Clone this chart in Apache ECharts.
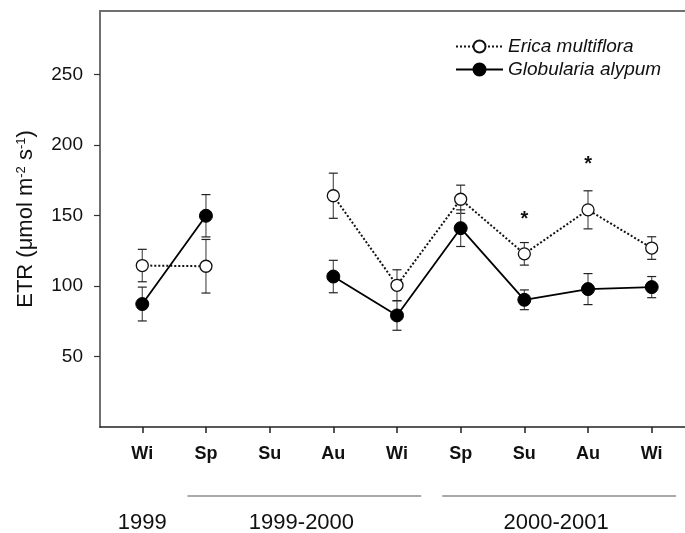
<!DOCTYPE html>
<html><head><meta charset="utf-8">
<script src="https://cdn.jsdelivr.net/npm/echarts@6/dist/echarts.min.js"></script>
<style>html,body{margin:0;padding:0;background:#fff}#c{width:685px;height:533px}</style>
</head><body><div id="c"></div>
<script>
// ---- data ----
const categories = ['Wi','Sp','Su','Au','Wi','Sp','Su','Au','Wi'];
const ericaValues = [114.5, 114, null, 164, 100.5, 161.5, 122.8, 154, 126.9];
const ericaErrors = [11.5, 19, null, 16, 11, 10, 8, 13.5, 8];
const globulariaValues = [87.2, 149.8, null, 106.7, 79.1, 141, 90.2, 97.8, 99.2];
const globulariaErrors = [12, 15, null, 11.5, 10.5, 13, 7, 11, 7.5];
const yTickValues = [50, 100, 150, 200, 250];
const asteriskPositions = [7, 8];      // category position (1-based)
const asteriskValues = [147, 186];
const yearLabels = ['1999', '1999-2000', '2000-2001'];
const yearFrom = [1, 2, 6];
const yearTo = [1, 5, 9];
const yearHasLine = [false, true, true];

const FONT = 'Liberation Sans, Arial, Helvetica, sans-serif';
const xPositions = categories.map((c, i) => i + 1);
const X_MIN = 0.336, X_MAX = 9.523;

function lineData(vals) {
  return vals.map((v, i) => [xPositions[i], v == null ? '-' : v]);
}
function errorSeries(name, vals, errs) {
  const data = [];
  vals.forEach((v, i) => { if (v != null) data.push([xPositions[i], v - errs[i], v + errs[i]]); });
  return {
    type: 'custom', name: name + ' err', z: 1, silent: true,
    data: data,
    encode: { x: 0, y: [1, 2] },
    renderItem: function (params, api) {
      const x = api.value(0);
      const lo = api.coord([x, api.value(1)]);
      const hi = api.coord([x, api.value(2)]);
      const hw = 4.5;
      const st = { stroke: '#555', lineWidth: 1.2 };
      return {
        type: 'group', children: [
          { type: 'line', shape: { x1: lo[0], y1: lo[1], x2: hi[0], y2: hi[1] }, style: st },
          { type: 'line', shape: { x1: lo[0] - hw, y1: lo[1], x2: lo[0] + hw, y2: lo[1] }, style: { stroke: '#222', lineWidth: 1.2 } },
          { type: 'line', shape: { x1: hi[0] - hw, y1: hi[1], x2: hi[0] + hw, y2: hi[1] }, style: { stroke: '#222', lineWidth: 1.2 } }
        ]
      };
    }
  };
}

const chart = echarts.init(document.getElementById('c'), null, { renderer: 'canvas' });
chart.setOption({
  animation: false,
  backgroundColor: '#fff',
  textStyle: { fontFamily: FONT },
  grid: { left: 100, right: 0, top: 11, bottom: 106 },
  legend: {
    data: ['Erica multiflora', 'Globularia alypum'],
    orient: 'vertical', left: 450, top: 32,
    itemWidth: 47, itemHeight: 15, itemGap: 4,
    textStyle: { fontFamily: FONT, fontSize: 19, fontStyle: 'italic', color: '#111' }
  },
  xAxis: [{
    type: 'value', min: X_MIN, max: X_MAX, position: 'bottom',
    splitLine: { show: false },
    axisLine: { show: true, lineStyle: { color: '#222', width: 1.5 } },
    axisTick: { show: true, length: 6, customValues: xPositions, lineStyle: { color: '#222', width: 1.5 } },
    axisLabel: {
      customValues: xPositions, margin: 18,
      formatter: v => categories[Math.round(v) - 1] || '',
      fontFamily: FONT, fontSize: 18, fontWeight: 'bold', color: '#111'
    }
  }, {
    type: 'value', min: X_MIN, max: X_MAX, position: 'top',
    splitLine: { show: false },
    axisLine: { show: true, lineStyle: { color: '#707070', width: 2 } },
    axisTick: { show: false }, axisLabel: { show: false }
  }],
  yAxis: {
    type: 'value', min: 0, max: 295,
    splitLine: { show: false },
    axisLine: { show: true, lineStyle: { color: '#707070', width: 2 } },
    axisTick: { show: true, length: 6, customValues: yTickValues, lineStyle: { color: '#333', width: 1.2 } },
    axisLabel: { customValues: yTickValues, margin: 17, fontFamily: FONT, fontSize: 19, color: '#111' },
    name: '{a|ETR (μmol m}{s|-2}{a| s}{s|-1}{a|)}',
    nameLocation: 'middle', nameRotate: 90, nameGap: 63,
    nameTextStyle: {
      rich: {
        a: { fontFamily: FONT, fontSize: 22, color: '#111' },
        s: { fontFamily: FONT, fontSize: 13, color: '#111', verticalAlign: 'top' }
      }
    }
  },
  series: [
    errorSeries('Erica', ericaValues, ericaErrors),
    errorSeries('Globularia', globulariaValues, globulariaErrors),
    {
      type: 'line', name: 'Erica multiflora', z: 3,
      data: lineData(ericaValues), connectNulls: false,
      symbol: 'circle', symbolSize: 12,
      itemStyle: { color: '#fff', borderColor: '#111', borderWidth: 1.3 },
      lineStyle: { color: '#111', width: 2, type: 'dotted' }
    },
    {
      type: 'line', name: 'Globularia alypum', z: 4,
      data: lineData(globulariaValues), connectNulls: false,
      symbol: 'circle', symbolSize: 13,
      itemStyle: { color: '#000', borderColor: '#000', borderWidth: 1 },
      lineStyle: { color: '#000', width: 1.8, type: 'solid' }
    },
    {
      type: 'custom', name: 'asterisks', z: 5, silent: true,
      data: asteriskPositions.map((p, i) => [p, asteriskValues[i]]),
      encode: { x: 0, y: 1 },
      renderItem: function (params, api) {
        const pt = api.coord([api.value(0), api.value(1)]);
        return { type: 'text', x: pt[0], y: pt[1],
          style: { text: '*', fontFamily: FONT, fontSize: 20, fontWeight: 'bold', fill: '#111', align: 'center', verticalAlign: 'middle' } };
      }
    },
    {
      type: 'custom', name: 'years', z: 5, silent: true, clip: false,
      data: yearLabels.map((l, i) => [yearFrom[i], yearTo[i], i]),
      encode: { x: [0, 1] },
      renderItem: function (params, api) {
        const i = api.value(2);
        const from = api.value(0), to = api.value(1);
        const base = api.coord([from, 0])[1];
        const pc = api.coord([(from + to) / 2, 0]);
        const children = [{ type: 'text', x: pc[0], y: base + 96,
          style: { text: yearLabels[i], fontFamily: FONT, fontSize: 22, fill: '#111', align: 'center', verticalAlign: 'middle' } }];
        if (yearHasLine[i]) {
          const a = api.coord([from - 0.29, 0]);
          const b = api.coord([to + 0.38, 0]);
          children.push({ type: 'line', shape: { x1: a[0], y1: base + 69, x2: b[0], y2: base + 69 }, style: { stroke: '#555', lineWidth: 1.2 } });
        }
        return { type: 'group', children: children };
      }
    }
  ]
});
</script>
</body></html>
